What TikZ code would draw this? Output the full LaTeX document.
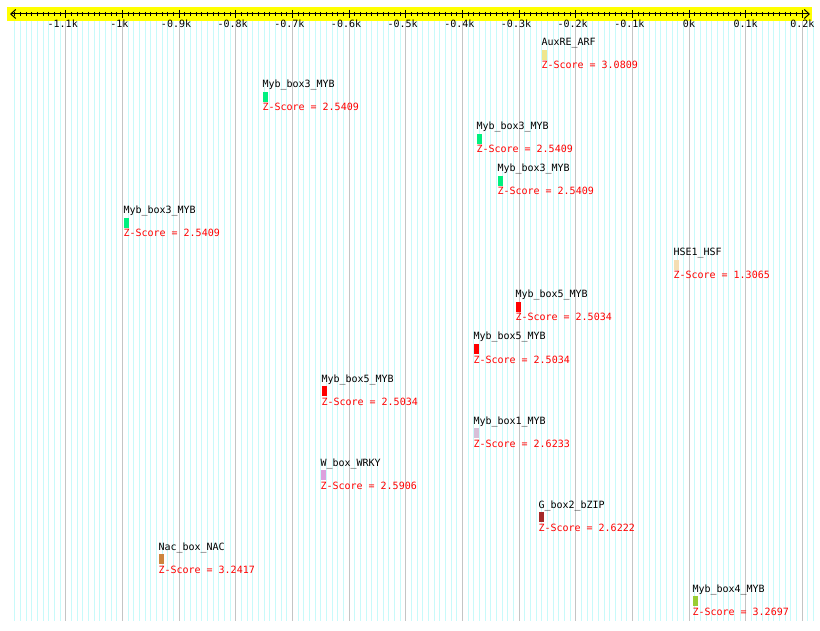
\documentclass[tikz,border=0pt]{standalone}
\usepackage{fontspec}
\newfontfamily\monofont{DejaVu Sans Mono}
\usetikzlibrary{arrows.meta}
\definecolor{band}{HTML}{FFFF00}
\definecolor{minorline}{HTML}{C8FAFA}
\definecolor{majorline}{HTML}{C4C4C4}
\definecolor{zred}{HTML}{FF0000}
\definecolor{arf}{HTML}{F0E68C}
\definecolor{mybthree}{HTML}{00F07F}
\definecolor{hsf}{HTML}{F5DEB3}
\definecolor{mybfive}{HTML}{FF0000}
\definecolor{mybone}{HTML}{D8BFD8}
\definecolor{wrky}{HTML}{DDA0DD}
\definecolor{bzip}{HTML}{A52A2A}
\definecolor{nac}{HTML}{CD853F}
\definecolor{mybfour}{HTML}{9ACD32}
\tikzstyle{motif} = [anchor=base west, inner sep=0pt, font=\monofont\fontsize{10}{12}\selectfont]
\tikzstyle{score} = [motif, text=zred]
\tikzstyle{site} = [inner sep=0pt, minimum width=5pt, minimum height=10pt, anchor=north west]
\tikzstyle{ticklabel} = [anchor=base, inner sep=0pt, font=\monofont\fontsize{10}{12}\selectfont]

\begin{document}
\begin{tikzpicture}[x=1pt, y=-1pt, line width=1pt]
	\useasboundingbox (0,0) rectangle (820,631);
	\fill[band] (7,7) rectangle (812,20.7);
	\foreach \k in {-119,...,22} {
		\draw[minorline] ({689+5.666*\k},21) -- ({689+5.666*\k},621);
	}
	\foreach \k in {-11,...,2} {
		\draw[majorline] ({689+56.66*\k},21) -- ({689+56.66*\k},621);
	}
	\coordinate (west) at (10,14);
	\coordinate (east) at (810,14);
	\draw[{Straight Barb[length=5pt,width=9pt]}-{Straight Barb[length=5pt,width=9pt]}] (west) -- (east);
	\foreach \k in {-119,...,20} {
		\draw ({689+5.666*\k},11.8) -- ({689+5.666*\k},16.2);
	}
	\foreach \k/\t in {-11/\llap{-}1.1k, -10/\llap{-}1k, -9/\llap{-}0.9k, -8/\llap{-}0.8k,
		-7/\llap{-}0.7k, -6/\llap{-}0.6k, -5/\llap{-}0.5k, -4/\llap{-}0.4k, -3/\llap{-}0.3k,
		-2/\llap{-}0.2k, -1/\llap{-}0.1k, 0/0k, 1/0.1k, 2/0.2k} {
		\draw ({689+56.66*\k},10) -- ({689+56.66*\k},18);
		\node[ticklabel] (t\k) at ({689+56.66*\k},28) {\t};
	}
	\foreach \nm/\x/\col/\z [count=\i from 0] in {
		AuxRE\_ARF/541/arf/3.0809,
		Myb\_box3\_MYB/262/mybthree/2.5409,
		Myb\_box3\_MYB/476/mybthree/2.5409,
		Myb\_box3\_MYB/497/mybthree/2.5409,
		Myb\_box3\_MYB/123/mybthree/2.5409,
		HSE1\_HSF/673/hsf/1.3065,
		Myb\_box5\_MYB/515/mybfive/2.5034,
		Myb\_box5\_MYB/473/mybfive/2.5034,
		Myb\_box5\_MYB/321/mybfive/2.5034,
		Myb\_box1\_MYB/473/mybone/2.6233,
		W\_box\_WRKY/320/wrky/2.5906,
		G\_box2\_bZIP/538/bzip/2.6222,
		Nac\_box\_NAC/158/nac/3.2417,
		Myb\_box4\_MYB/692/mybfour/3.2697} {
		\node[motif] (m\i) at (\x,46+42*\i) {\nm};
		\node[site, fill=\col] (b\i) at (\x,49.3+42*\i) {};
		\node[score] (z\i) at (\x,69+42*\i) {Z-Score = \z};
	}
\end{tikzpicture}
\end{document}
